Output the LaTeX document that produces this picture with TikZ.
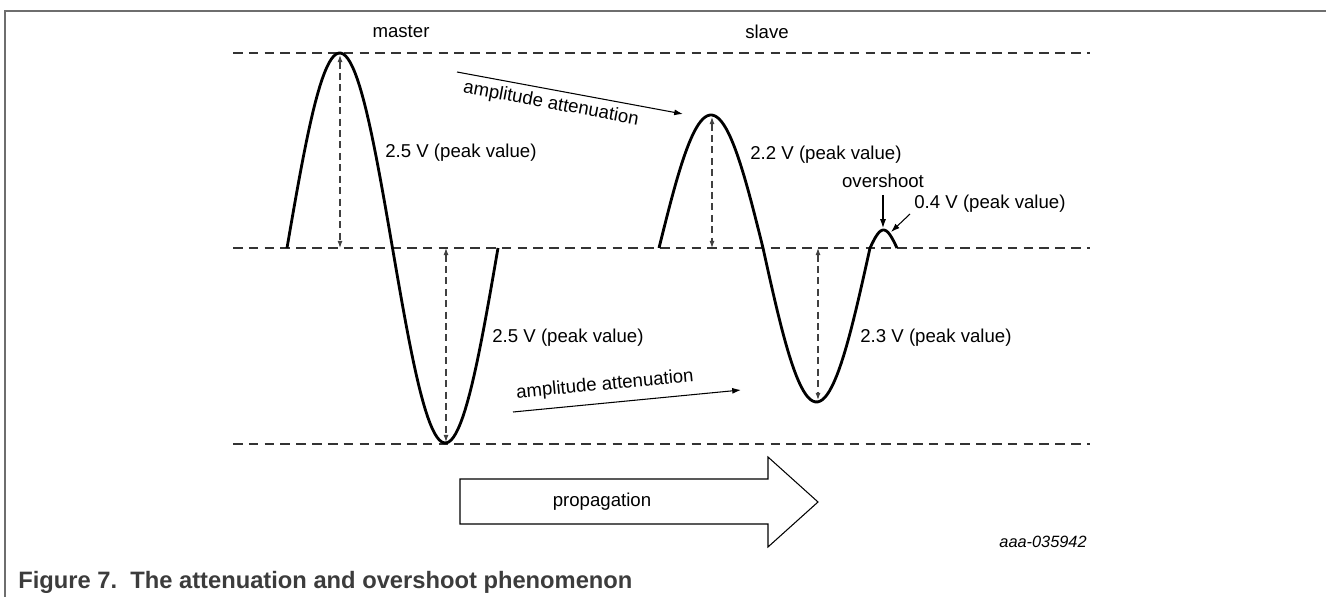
\documentclass[tikz,border=0pt]{standalone}
\usepackage{fontspec}
\setmainfont{Liberation Sans}
\usepackage{xcolor}
\usetikzlibrary{arrows.meta}

\definecolor{framegray}{HTML}{6E6E6E}
\definecolor{captiongray}{HTML}{3C3C3C}

\begin{document}
\begin{tikzpicture}[
  x=0.02cm, y=-0.02cm,
  lbl/.style={font=\fontsize{10.6}{12}\selectfont,inner sep=0pt,anchor=west},
  head/.style={font=\fontsize{10.6}{12}\selectfont,inner sep=0pt},
  level/.style={draw=black!80,line width=0.8pt,dash pattern=on 5.5pt off 3.5pt},
  wave/.style={line width=1.6pt,line join=round},
  span/.style={draw=black!75,line width=0.6pt,dash pattern=on 4pt off 2.5pt,
    arrows={Latex[length=4pt,width=2.8pt]-Latex[length=4pt,width=2.8pt]}},
  pointer/.style={line width=0.6pt,arrows={-Latex[length=5pt,width=3.4pt]}}
]
  \useasboundingbox (0,0) rectangle (1326,597);
  \draw[framegray,line width=0.6pt] (5,597) -- (5,11) -- (1326,11);

  \coordinate (t0) at (233,53);  \coordinate (t1) at (1090,53);
  \coordinate (m0) at (233,248); \coordinate (m1) at (1090,248);
  \coordinate (b0) at (233,444); \coordinate (b1) at (1090,444);
  \draw[level] (t0) -- (t1);
  \draw[level] (m0) -- (m1);
  \draw[level] (b0) -- (b1);

  \node[head] (master) at (401,32) {master};
  \node[head] (slave) at (767,32) {slave};

  \draw[wave] plot[domain=0:360,samples=91] ({287+\x/360*211},{248-195*sin(\x)});
  \draw[wave] plot[domain=0:180,samples=46] ({659+\x/180*104},{248-133*sin(\x)})
    -- plot[domain=0:180,samples=46] ({763+\x/180*107},{248+154*sin(\x)})
    -- plot[domain=0:180,samples=24] ({870+\x/180*27},{248-18*sin(\x)});

  \coordinate (mpk) at (340,55);  \coordinate (mpz) at (340,248);
  \coordinate (mtr) at (446,442); \coordinate (mtz) at (446,248);
  \coordinate (spk) at (712,117); \coordinate (spz) at (712,248);
  \coordinate (str) at (818,400); \coordinate (stz) at (818,248);
  \draw[span] (mpk) -- (mpz);
  \draw[span] (mtz) -- (mtr);
  \draw[span] (spk) -- (spz);
  \draw[span] (stz) -- (str);

  \node[lbl] (mup) at (385,153) {2.5 V (peak value)};
  \node[lbl] (mdn) at (492,338) {2.5 V (peak value)};
  \node[lbl] (sup) at (750,155) {2.2 V (peak value)};
  \node[lbl] (sdn) at (860,338) {2.3 V (peak value)};

  \coordinate (ua0) at (457,72);  \coordinate (ua1) at (683,114);
  \coordinate (la0) at (513,412); \coordinate (la1) at (741,390);
  \draw[pointer] (ua0) -- (ua1);
  \draw[pointer] (la0) -- (la1);
  \node[head,rotate=-10.6] (uatt) at (551,104) {amplitude attenuation};
  \node[head,rotate=5.5] (latt) at (605,385) {amplitude attenuation};

  \node[head] (over) at (883,181) {overshoot};
  \node[lbl] (ovv) at (914,204) {0.4 V (peak value)};
  \coordinate (ov0) at (883,195); \coordinate (ov1) at (883,228);
  \coordinate (ow0) at (910,214); \coordinate (ow1) at (891,232);
  \draw[pointer] (ov0) -- (ov1);
  \draw[pointer] (ow0) -- (ow1);

  \draw[line width=0.6pt,line join=miter] (460,479) -- (768,479) -- (768,457) -- (818,502)
    -- (768,547) -- (768,524) -- (460,524) -- cycle;
  \node[head] (prop) at (602,502) {propagation};

  \node[font=\fontsize{9.3}{11}\itshape,inner sep=0pt,anchor=east] (code) at (1087,542) {aaa-035942};
  \node[font=\fontsize{13.5}{16}\bfseries,text=captiongray,inner sep=0pt,anchor=west] (cap)
    at (18,582) {Figure 7.\ \ The attenuation and overshoot phenomenon};
\end{tikzpicture}
\end{document}
